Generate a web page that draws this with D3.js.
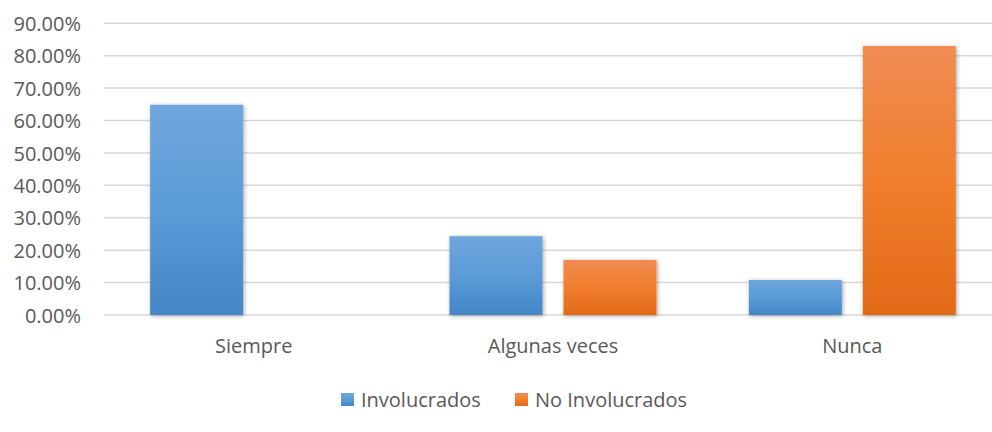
<!DOCTYPE html>
<html>
<head>
<meta charset="utf-8">
<script src="https://cdn.jsdelivr.net/npm/d3@7"></script>
<style>
  body { margin: 0; background: #fff; }
  text { font-family: 'Open Sans', sans-serif; fill: #595959; }
</style>
</head>
<body>
<div class="canvas"></div>
<script>
// data
const categories = ['Siempre', 'Algunas veces', 'Nunca'];
const seriesNames = ['Involucrados', 'No Involucrados'];
const involucrados = [0.6486, 0.2432, 0.1081];
const noInvolucrados = [0, 0.17, 0.83];
const yTicks = [0, 0.1, 0.2, 0.3, 0.4, 0.5, 0.6, 0.7, 0.8, 0.9];

const rows = categories.map((c, i) => ({
  name: c,
  values: [involucrados[i], noInvolucrados[i]]
}));

const svg = d3.select('.canvas')
  .append('svg')
    .attr('width', 992)
    .attr('height', 432);

// gradients + shadow
const defs = svg.append('defs');
const grads = [
  {id: 'gBlue', top: '#6fa6dc', mid: '#5b9bd8', bottom: '#4386c6'},
  {id: 'gOrange', top: '#f08c54', mid: '#f07e2c', bottom: '#e26a18'}
];
grads.forEach(g => {
  const lg = defs.append('linearGradient')
    .attr('id', g.id)
    .attr('x1', 0).attr('y1', 0).attr('x2', 0).attr('y2', 1);
  lg.append('stop').attr('offset', '0%').attr('stop-color', g.top);
  lg.append('stop').attr('offset', '50%').attr('stop-color', g.mid);
  lg.append('stop').attr('offset', '100%').attr('stop-color', g.bottom);
});
defs.append('filter')
  .attr('id', 'shadow')
  .attr('x', '-20%').attr('y', '-20%').attr('width', '140%').attr('height', '140%')
  .append('feDropShadow')
    .attr('dx', 1).attr('dy', 1)
    .attr('stdDeviation', 2)
    .attr('flood-color', '#000')
    .attr('flood-opacity', 0.35);

// scales
const y = d3.scaleLinear()
  .domain([0, 0.9])
  .range([315, 23.3]);

const x0 = d3.scaleBand()
  .domain(categories)
  .range([104, 1002]);

const x1 = d3.scaleBand()
  .domain(seriesNames)
  .range([0, x0.bandwidth()])
  .paddingInner(0.184)
  .paddingOuter(0.405);

const fills = ['url(#gBlue)', 'url(#gOrange)'];
const legendColors = ['#5b9bd5', '#ed7d31'];

// gridlines
svg.append('g')
  .selectAll('line')
  .data(yTicks)
  .enter()
  .append('line')
    .attr('x1', 104)
    .attr('x2', 1002)
    .attr('y1', d => y(d))
    .attr('y2', d => y(d))
    .attr('stroke', '#d9d9d9')
    .attr('stroke-width', 1.5);

// y labels
svg.append('g')
  .selectAll('text')
  .data(yTicks)
  .enter()
  .append('text')
    .attr('x', 81)
    .attr('y', d => y(d))
    .attr('dy', '0.38em')
    .attr('text-anchor', 'end')
    .style('font-size', '20px')
    .text(d => d3.format('.2%')(d));

// bars
const groups = svg.append('g')
  .selectAll('g')
  .data(rows)
  .enter()
  .append('g')
    .attr('transform', d => `translate(${x0(d.name)}, 0)`);

groups.selectAll('rect')
  .data(d => d.values.map((v, i) => ({series: seriesNames[i], value: v, i})))
  .enter()
  .append('rect')
    .filter(d => d.value > 0)
    .attr('x', d => x1(d.series))
    .attr('y', d => y(d.value))
    .attr('width', x1.bandwidth())
    .attr('height', d => y(0) - y(d.value))
    .attr('fill', d => fills[d.i])
    .attr('filter', 'url(#shadow)');

// x labels
svg.append('g')
  .selectAll('text')
  .data(categories)
  .enter()
  .append('text')
    .attr('x', d => x0(d) + x0.bandwidth() / 2)
    .attr('y', 353)
    .attr('text-anchor', 'middle')
    .style('font-size', '20px')
    .text(d => d);

// legend
const legendX = [341, 515];
const legend = svg.append('g')
  .selectAll('g')
  .data(seriesNames)
  .enter()
  .append('g')
    .attr('transform', (d, i) => `translate(${legendX[i]}, 393)`);

legend.append('rect')
  .attr('width', 13)
  .attr('height', 13)
  .attr('fill', (d, i) => fills[i]);

legend.append('text')
  .attr('x', 20)
  .attr('y', 14)
  .style('font-size', '20px')
  .text(d => d);
</script>
</body>
</html>
